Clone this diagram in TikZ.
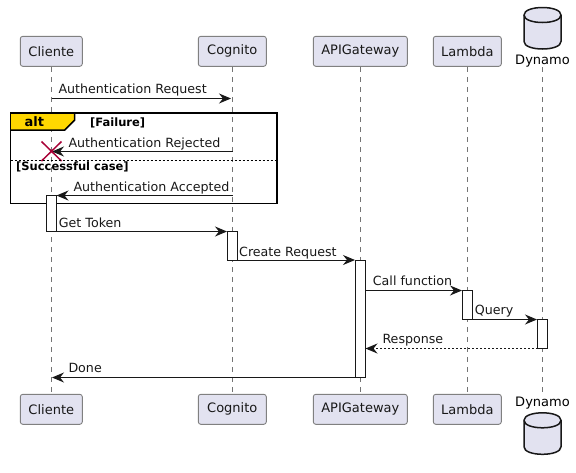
\documentclass[tikz,border=0pt]{standalone}
\usepackage{fontspec}
\setmainfont{DejaVu Sans}
\usetikzlibrary{arrows.meta}
\definecolor{ink}{HTML}{181818}
\definecolor{partfill}{HTML}{E2E2F0}
\definecolor{altgold}{HTML}{FFD700}
\definecolor{crossred}{HTML}{A80036}
\tikzset{
  x=1pt,y=-1pt,
  part/.style={draw=ink!55,line width=0.9pt,fill=partfill,rounded corners=2.5pt,minimum height=30pt,inner sep=0pt,font=\fontsize{13}{15}\selectfont,text=ink},
  lifeline/.style={draw=ink!60,line width=0.7pt,dash pattern=on 5pt off 5pt},
  actbar/.style={draw=ink,line width=1pt,fill=white,minimum width=10pt,inner sep=0pt,outer sep=0pt},
  msg/.style={draw=ink,line width=1pt,-{Stealth[length=12pt,width=10pt,inset=4pt]}},
  reply/.style={msg,dash pattern=on 2pt off 2pt},
  lbl/.style={anchor=base west,inner sep=0pt,font=\fontsize{12.65}{15}\selectfont,text=ink},
  grp/.style={anchor=base west,inner sep=0pt,font=\fontsize{11.5}{13}\selectfont\bfseries,text=black},
  cyl/.style={draw=ink,line width=1.5pt,fill=partfill},
  dbtext/.style={inner sep=0pt,anchor=base,font=\fontsize{13}{15}\selectfont,text=black}
}
\begin{document}
\begin{tikzpicture}
\useasboundingbox (0,0) rectangle (576,472);
% participants
\node[part,minimum width=62pt] (cl) at (51.3,51.3) {Cliente};
\node[part,minimum width=68pt] (co) at (232.3,51.3) {Cognito};
\node[part,minimum width=94pt] (ap) at (360.3,51.3) {APIGateway};
\node[part,minimum width=68pt] (la) at (467.3,51.3) {Lambda};
\node[part,minimum width=62pt] (clb) at (51.3,409.3) {Cliente};
\node[part,minimum width=68pt] (cob) at (232.3,409.3) {Cognito};
\node[part,minimum width=94pt] (apb) at (360.3,409.3) {APIGateway};
\node[part,minimum width=68pt] (lab) at (467.3,409.3) {Lambda};
% database
\draw[cyl] (524,15) .. controls (524,5) and (561,5) .. (561,15) -- (561,41.5) .. controls (561,51.5) and (524,51.5) .. (524,41.5) -- cycle;
\draw[cyl,fill=none] (524,15) .. controls (524,25) and (561,25) .. (561,15);
\node[dbtext] (dy) at (542.5,64) {Dynamo};
\draw[cyl] (524,420.3) .. controls (524,410.3) and (561,410.3) .. (561,420.3) -- (561,446.8) .. controls (561,456.8) and (524,456.8) .. (524,446.8) -- cycle;
\draw[cyl,fill=none] (524,420.3) .. controls (524,430.3) and (561,430.3) .. (561,420.3);
\node[dbtext] (dyb) at (542.5,406.5) {Dynamo};
\coordinate (dyt) at (542.5,67);
\coordinate (dyu) at (542.5,394);
% lifelines
\draw[lifeline] (cl.south) -- (clb.north);
\draw[lifeline] (co.south) -- (cob.north);
\draw[lifeline] (ap.south) -- (apb.north);
\draw[lifeline] (la.south) -- (lab.north);
\draw[lifeline] (dyt) -- (dyu);
% first message
\coordinate (mi1) at (51.5,98.5);
\coordinate (mi2) at (231,98.5);
\draw[msg] (mi1) -- (mi2);
\node[lbl] (t1) at (58.3,93.3) {Authentication Request};
% alt frame
\coordinate (fa) at (10.5,113);
\coordinate (fb) at (277,203.5);
\fill[altgold] (10.5,113) -- (74.7,113) -- (74.7,120) -- (64.7,130) -- (10.5,130) -- cycle;
\draw[draw=black,line width=1.5pt] (74.7,113) -- (74.7,120) -- (64.7,130) -- (10.5,130);
\draw[draw=black,line width=1.7pt] (fa) rectangle (fb);
\node[anchor=base,inner sep=0pt,font=\fontsize{13}{15}\selectfont\bfseries] (alt) at (34.3,126) {alt};
\node[grp] (g1) at (90,126) {[Failure]};
\coordinate (rj1) at (232.5,151.5);
\coordinate (rj2) at (52,151.5);
\draw[msg] (rj1) -- (rj2);
\node[lbl] (t2) at (68.3,147) {Authentication Rejected};
\draw[crossred,line width=1.5pt] (41.5,141.5) -- (61.5,161) (41.5,161) -- (61.5,141.5);
\coordinate (dv1) at (10.5,160.5);
\coordinate (dv2) at (277,160.5);
\draw[draw=black,line width=0.8pt,dash pattern=on 2pt off 2pt] (dv1) -- (dv2);
\node[grp] (g2) at (16,170.7) {[Successful case]};
% activations
\node[actbar,minimum height=36pt] (acl) at (51.5,213.5) {};
\node[actbar,minimum height=28.5pt] (aco) at (232.5,245.75) {};
\node[actbar,minimum height=117.5pt] (aap) at (360.5,318.75) {};
\node[actbar,minimum height=29pt] (ala) at (467.5,305) {};
\node[actbar,minimum height=29pt] (ady) at (542.5,334) {};
% messages
\coordinate (ac1) at (232.5,195.5);
\draw[msg] (ac1) -- (acl.north east);
\node[lbl] (t3) at (73.3,191) {Authentication Accepted};
\draw[msg,shorten >=0.5pt] (acl.south east) -- (aco.north west);
\node[lbl] (t4) at (58.7,227) {Get Token};
\draw[msg,shorten >=0.5pt] (aco.south east) -- (aco.south east -| aap.west);
\node[lbl] (t5) at (239,256) {Create Request};
\coordinate (cf) at (aap.east |- ala.north);
\draw[msg,shorten >=0.5pt] (cf) -- (ala.north west);
\node[lbl] (t6) at (372.7,285.5) {Call function};
\draw[msg,shorten >=0.5pt] (ala.south east) -- (ady.north west);
\node[lbl] (t7) at (474.7,314) {Query};
\draw[reply] (ady.south west) -- (aap.east |- ady.south);
\node[lbl] (t8) at (382.3,343) {Response};
\coordinate (dn) at (52,377.5);
\draw[msg] (aap.south west) -- (dn);
\node[lbl] (t9) at (68.3,372) {Done};
\end{tikzpicture}
\end{document}
